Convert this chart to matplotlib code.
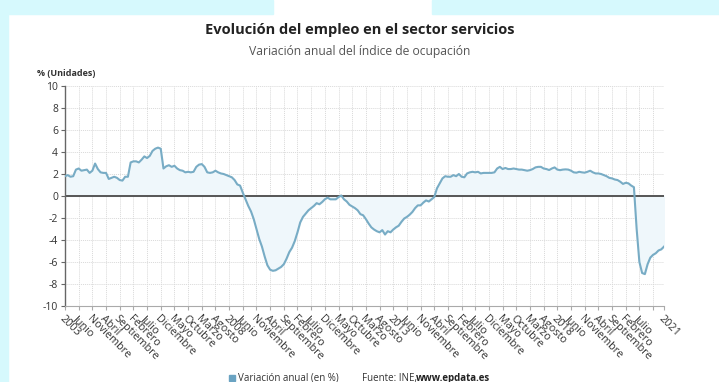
import numpy as np
import matplotlib
matplotlib.use("Agg")
import matplotlib.pyplot as plt
from matplotlib.patches import Rectangle

plt.rcParams['font.family'] = ['Open Sans', 'DejaVu Sans']

# variacion anual mensual del indice de ocupacion, desde enero 2003
variacion = [
    1.8, 1.9, 1.75, 1.8, 2.4, 2.5, 2.3, 2.35, 2.4, 2.1, 2.3, 2.95,          # 2003
    2.45, 2.15, 2.1, 2.1, 1.55, 1.65, 1.75, 1.65, 1.45, 1.4, 1.75, 1.75,    # 2004
    3.05, 3.15, 3.15, 3.05, 3.3, 3.6, 3.45, 3.65, 4.1, 4.3, 4.4, 4.3,       # 2005
    2.5, 2.7, 2.8, 2.65, 2.75, 2.5, 2.35, 2.3, 2.15, 2.2, 2.15, 2.2,        # 2006
    2.65, 2.85, 2.9, 2.65, 2.15, 2.1, 2.15, 2.3, 2.15, 2.05, 2.0, 1.9,      # 2007
    1.8, 1.7, 1.45, 1.05, 0.95, 0.3, -0.3, -0.9, -1.4, -2.1, -3.0, -3.9,    # 2008
    -4.6, -5.5, -6.3, -6.7, -6.8, -6.75, -6.6, -6.45, -6.2, -5.7, -5.1, -4.7,  # 2009
    -4.1, -3.3, -2.4, -1.9, -1.6, -1.3, -1.1, -0.9, -0.65, -0.75, -0.55, -0.3,  # 2010
    -0.15, -0.3, -0.3, -0.3, -0.1, 0.05, -0.3, -0.5, -0.8, -0.95, -1.1, -1.3,  # 2011
    -1.65, -1.75, -2.1, -2.5, -2.85, -3.05, -3.2, -3.3, -3.1, -3.5, -3.2, -3.3,  # 2012
    -3.05, -2.85, -2.7, -2.35, -2.05, -1.9, -1.7, -1.45, -1.1, -0.85, -0.85, -0.6,  # 2013
    -0.4, -0.5, -0.3, -0.1, 0.7, 1.15, 1.6, 1.8, 1.75, 1.75, 1.9, 1.8,      # 2014
    2.0, 1.75, 1.7, 2.05, 2.15, 2.2, 2.15, 2.2, 2.05, 2.1, 2.1, 2.1,        # 2015
    2.1, 2.15, 2.5, 2.65, 2.45, 2.55, 2.45, 2.45, 2.5, 2.45, 2.4, 2.4,      # 2016
    2.35, 2.3, 2.35, 2.45, 2.6, 2.65, 2.65, 2.5, 2.45, 2.36, 2.5, 2.6,      # 2017
    2.4, 2.35, 2.4, 2.42, 2.4, 2.3, 2.15, 2.12, 2.2, 2.15, 2.12, 2.2,       # 2018
    2.3, 2.15, 2.05, 2.05, 2.0, 1.9, 1.8, 1.65, 1.6, 1.5, 1.45, 1.3,        # 2019
    1.1, 1.2, 1.15, 0.95, 0.8, -3.0, -6.0, -7.0, -7.1, -6.2, -5.6, -5.35,   # 2020
    -5.2, -4.95, -4.85, -4.6,                                                # 2021
]

# etiquetas cada 5 meses; la ultima va al final del eje
tick_labels = [
    '2003', 'Junio', 'Noviembre', 'Abril', 'Septiembre', 'Febrero', 'Julio',
    'Diciembre', 'Mayo', 'Octubre', 'Marzo', 'Agosto',
    '2008', 'Junio', 'Noviembre', 'Abril', 'Septiembre', 'Febrero', 'Julio',
    'Diciembre', 'Mayo', 'Octubre', 'Marzo', 'Agosto',
    '2013', 'Junio', 'Noviembre', 'Abril', 'Septiembre', 'Febrero', 'Julio',
    'Diciembre', 'Mayo', 'Octubre', 'Marzo', 'Agosto',
    '2018', 'Junio', 'Noviembre', 'Abril', 'Septiembre', 'Febrero', 'Julio',
]
end_label = '2021'
y_ticks = [-10, -8, -6, -4, -2, 0, 2, 4, 6, 8, 10]

line_color = '#78acc5'
fill_color = '#eff7fb'
text_color = '#333333'

fig = plt.figure(figsize=(7.19, 3.82), dpi=100)
fig.patch.set_facecolor('white')

# fondo cian de la captura
bg = '#d6f9fd'
fig.add_artist(Rectangle((0, 0), 8 / 719, 1, transform=fig.transFigure, color=bg, zorder=0))
fig.add_artist(Rectangle((0, 1 - 14 / 382), 273 / 719, 14 / 382, transform=fig.transFigure, color=bg, zorder=0))
fig.add_artist(Rectangle((432 / 719, 1 - 14 / 382), 287 / 719, 14 / 382, transform=fig.transFigure, color=bg, zorder=0))

ax = fig.add_axes([65 / 719, 1 - 306 / 382, 599 / 719, 220 / 382])

x = np.arange(len(variacion))
ax.fill_between(x, variacion, 0, color=fill_color, zorder=1)
ax.plot(x, variacion, color=line_color, lw=1.5, zorder=3)
ax.axhline(0, color='#555555', lw=1.4, zorder=2)

ax.set_xlim(0, len(variacion) - 1)
ax.set_ylim(-10, 10)
ax.set_yticks(y_ticks)
ax.set_yticklabels([str(v) for v in y_ticks], fontsize=7.5, color=text_color)

xt = list(np.arange(len(tick_labels) + 1) * 5) + [len(variacion) - 1]
ax.set_xticks(xt)
ax.set_xticklabels(tick_labels + ['', end_label], rotation=-45, ha='left', va='top',
                   rotation_mode='anchor', fontsize=7.8, color=text_color)

ax.grid(True, color='#d9d9d9', lw=0.7, linestyle=(0, (1, 1)), zorder=0)
ax.set_axisbelow(True)

for s in ['top', 'right']:
    ax.spines[s].set_visible(False)
ax.spines['left'].set_color('#666666')
ax.spines['left'].set_linewidth(1.0)
ax.spines['bottom'].set_color('#aaaaaa')
ax.spines['bottom'].set_linewidth(0.8)
ax.tick_params(axis='y', length=3, color='#666666', pad=2)
ax.tick_params(axis='x', length=3, color='#aaaaaa', pad=2)

fig.text(0.5, 1 - 30 / 382, 'Evolución del empleo en el sector servicios',
         ha='center', va='center', fontsize=10.5, fontweight='bold', color='#222222')
fig.text(0.5, 1 - 51 / 382, 'Variación anual del índice de ocupación',
         ha='center', va='center', fontsize=8.7, color='#555555')
fig.text(37 / 719, 1 - 73 / 382, '% (Unidades)', ha='left', va='center',
         fontsize=6.5, fontweight='bold', color='#333333')

# leyenda y fuente
fig.add_artist(Rectangle((229 / 719, 1 / 382), 6 / 719, 6 / 382,
                         transform=fig.transFigure, color='#6aa3c2'))
fig.text(238 / 719, 4 / 382, 'Variación anual (en %)', ha='left', va='center',
         fontsize=7, color='#333333')
fig.text(362 / 719, 4 / 382, 'Fuente: INE, ', ha='left', va='center',
         fontsize=7, color='#333333')
fig.text(416 / 719, 4 / 382, 'www.epdata.es', ha='left', va='center',
         fontsize=7, fontweight='bold', color='#222222')

fig.savefig('out.png', dpi=100)
